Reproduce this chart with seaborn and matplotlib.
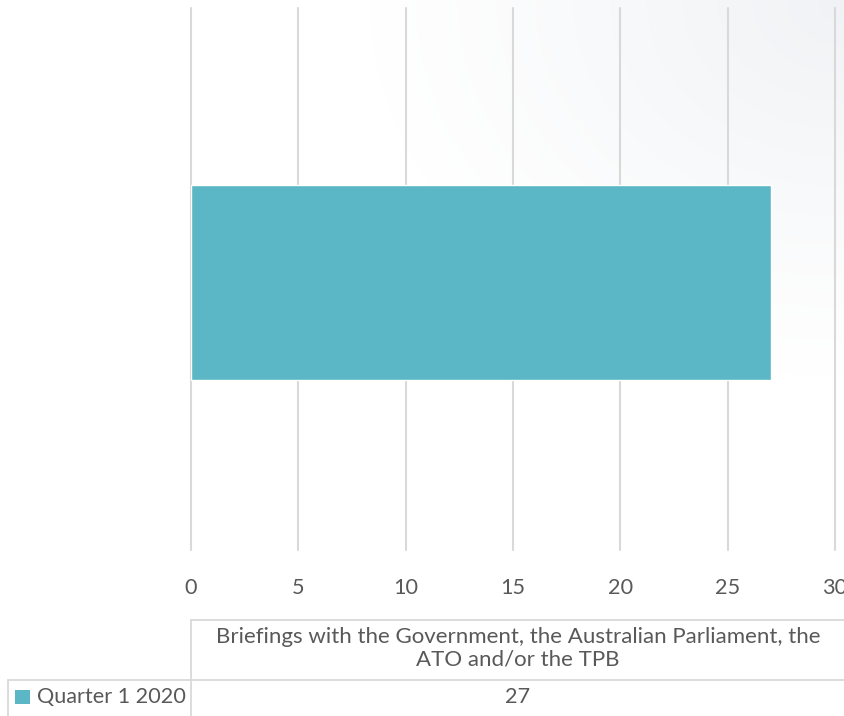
import numpy as np
import pandas as pd
import matplotlib
matplotlib.use("Agg")
import matplotlib.pyplot as plt
from matplotlib.lines import Line2D
from matplotlib.patches import Rectangle
import seaborn as sns

# Data
categories = ["Briefings with the Government, the Australian Parliament, the\nATO and/or the TPB"]
series_name = "Quarter 1 2020"
values = [27]
x_ticks = [0, 5, 10, 15, 20, 25, 30]

BAR_COLOR = "#5BB7C6"
GRID_COLOR = "#D9D9D9"
TEXT_COLOR = "#595959"
FS = 15.6

sns.set_theme(style="white")
plt.rcParams["font.family"] = ["Lato", "DejaVu Sans"]

W, H = 845, 716
fig = plt.figure(figsize=(W / 100, H / 100), dpi=100)
fig.patch.set_facecolor("white")

# Soft grey haze in the upper-right corner of the chart area
bg = fig.add_axes([0, 0, 1, 1], zorder=-10)
yy, xx = np.mgrid[0:H, 0:W]
dx = (xx - W) / 480.0
dy = yy / 380.0
r = np.sqrt(dx ** 2 + dy ** 2)
alpha = 0.75 * np.clip(1 - r, 0, 1) ** 1.1
img = np.ones((H, W, 4))
img[..., 0] = 0.925
img[..., 1] = 0.937
img[..., 2] = 0.950
img[..., 3] = alpha
bg.imshow(img, extent=[0, W, H, 0], aspect="auto", interpolation="bilinear")
bg.set_xlim(0, W)
bg.set_ylim(H, 0)
bg.axis("off")

# Plot area in pixel coordinates
left, right, top, bottom = 191, 835, 8, 550
ax = fig.add_axes([left / W, 1 - bottom / H, (right - left) / W, (bottom - top) / H])
ax.patch.set_alpha(0)

df = pd.DataFrame({"category": categories, "value": values})
sns.barplot(data=df, x="value", y="category", orient="h", color=BAR_COLOR,
            width=0.36, saturation=1, ax=ax, zorder=3)

ax.set_xlim(0, 30)
ax.set_ylim(0.4935, -0.5065)
ax.set_xticks(x_ticks)
ax.xaxis.grid(True, color=GRID_COLOR, linewidth=1.5)
for gl in ax.get_xgridlines():
    gl.set_clip_on(False)
ax.set_axisbelow(True)
for s in ax.spines.values():
    s.set_visible(False)
ax.set_yticks([])
ax.set_xlabel("")
ax.set_ylabel("")
ax.tick_params(axis="x", length=0, pad=20, labelsize=FS, labelcolor=TEXT_COLOR)

# Data table below the axis
def px_line(x0, y0, x1, y1):
    fig.add_artist(Line2D([x0 / W, x1 / W], [1 - y0 / H, 1 - y1 / H],
                          color=GRID_COLOR, linewidth=1.3, transform=fig.transFigure))

px_line(191, 620, W, 620)
px_line(8, 680, W, 680)
px_line(191, 620, 191, H)
px_line(8, 680, 8, H)

cell_cx = (191 + W) / 2
fig.text(cell_cx / W, 1 - 648 / H, categories[0], ha="center", va="center",
         fontsize=16, color=TEXT_COLOR, linespacing=1.15)
fig.text(cell_cx / W, 1 - 697 / H, str(values[0]), ha="center", va="center",
         fontsize=FS, color=TEXT_COLOR)

# Legend key and series name
fig.add_artist(Rectangle((15 / W, 1 - 704 / H), 15 / W, 14 / H,
                         facecolor=BAR_COLOR, edgecolor="none", transform=fig.transFigure))
fig.text(37 / W, 1 - 697 / H, series_name, ha="left", va="center",
         fontsize=FS, color=TEXT_COLOR)

fig.savefig("out.png", dpi=100)
